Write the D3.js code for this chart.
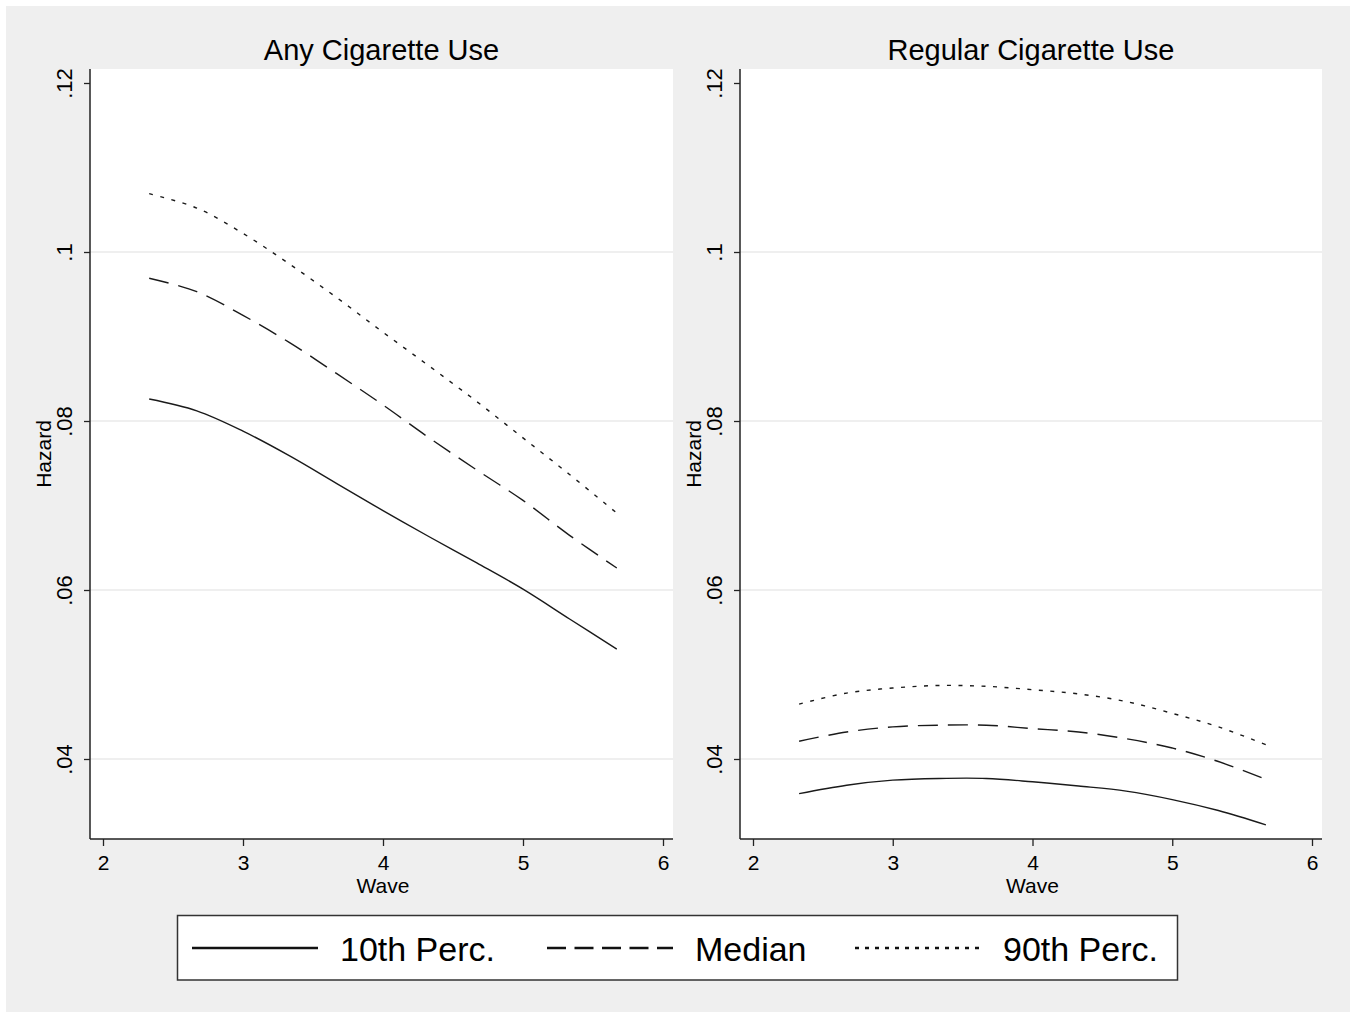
<!DOCTYPE html>
<meta charset="utf-8">
<script src="https://d3js.org/d3.v7.min.js"></script>
<style>
  body { margin: 0; background: #fff; }
  text { font-family: Arial, "Liberation Sans", sans-serif; fill: #000; }
</style>
<div id="chart"></div>
<script>

// data
var waves = [2.33, 2.67, 3, 3.33, 3.67, 4, 4.33, 4.67, 5, 5.33, 5.67];
var panelTitles = ["Any Cigarette Use", "Regular Cigarette Use"];
var seriesNames = ["10th Perc.", "Median", "90th Perc."];

var anyP10 = [.0826, .0812, .0788, .0759, .0726, .0694, .0663, .0632, .0601, .0566, .0530];
var anyMed = [.0969, .0953, .0925, .0893, .0856, .0819, .0780, .0742, .0706, .0665, .0626];
var anyP90 = [.1069, .1052, .1022, .0986, .0946, .0905, .0865, .0823, .0780, .0737, .0691];

var regP10 = [.0359, .0369, .0375, .0377, .0377, .0373, .0368, .0362, .0352, .0339, .0322];
var regMed = [.0421, .0432, .0438, .0440, .0440, .0436, .0432, .0424, .0413, .0397, .0376];
var regP90 = [.0465, .0478, .0484, .0487, .0486, .0482, .0477, .0468, .0454, .0438, .0417];

var xTicks = [2, 3, 4, 5, 6];
var yTicks = [.04, .06, .08, .1, .12];
var yTickLabels = [".04", ".06", ".08", ".1", ".12"];

var panelData = [[anyP10, anyMed, anyP90], [regP10, regMed, regP90]];
var dashes = [null, "20,10", "4,7.5"];

var W = 1357, H = 1013;
var svg = d3.select("#chart").append("svg")
  .attr("width", W).attr("height", H);

// outer gray background
svg.append("rect")
  .attr("x", 6).attr("y", 6).attr("width", 1344).attr("height", 1006)
  .attr("fill", "#efefef");

var plotTop = 69, plotBottom = 839;
var panels = [
  {left: 90, right: 673, x0: 103, x6: 663},
  {left: 740, right: 1322, x0: 753, x6: 1312}
];

var y = d3.scaleLinear().domain([.04, .12]).range([759, 83]);

panels.forEach(function(p, i) {
  var x = d3.scaleLinear().domain([2, 6]).range([p.x0, p.x6]);
  var g = svg.append("g");

  g.append("rect")
    .attr("x", p.left).attr("y", plotTop)
    .attr("width", p.right - p.left).attr("height", plotBottom - plotTop)
    .attr("fill", "#fff");

  // gridlines
  g.selectAll(".grid").data(yTicks.slice(0, 4)).enter().append("line")
    .attr("x1", p.left).attr("x2", p.right)
    .attr("y1", function(d) { return y(d); })
    .attr("y2", function(d) { return y(d); })
    .attr("stroke", "#eaeaea").attr("stroke-width", 1.5);

  // series
  var line = d3.line()
    .x(function(d, j) { return x(waves[j]); })
    .y(function(d) { return y(d); })
    .curve(d3.curveCatmullRom);

  panelData[i].forEach(function(vals, k) {
    g.append("path")
      .attr("d", line(vals))
      .attr("fill", "none")
      .attr("stroke", "#1a1a1a")
      .attr("stroke-width", 1.4)
      .attr("stroke-dasharray", dashes[k]);
  });

  // y axis
  var yAxis = g.append("g")
    .attr("transform", "translate(" + p.left + ",0)")
    .call(d3.axisLeft(y).tickValues(yTicks).tickSize(6)
      .tickFormat(function(d, j) { return yTickLabels[j]; }));
  yAxis.select(".domain").attr("d", "M0," + plotTop + "V" + plotBottom)
    .attr("stroke", "#222").attr("stroke-width", 1.5);
  yAxis.selectAll(".tick line").attr("stroke", "#222").attr("stroke-width", 1.3);
  yAxis.selectAll(".tick text")
    .attr("x", null).attr("dy", null)
    .attr("transform", "translate(-18,0) rotate(-90)")
    .attr("text-anchor", "middle")
    .style("font-size", "22px")
    .style("font-family", "Arial, 'Liberation Sans', sans-serif")
    .attr("fill", "#000");

  // x axis
  var xAxis = g.append("g")
    .attr("transform", "translate(0," + plotBottom + ")")
    .call(d3.axisBottom(x).tickValues(xTicks).tickSize(7).tickFormat(d3.format("d")));
  xAxis.select(".domain").attr("d", "M" + p.left + ",0H" + p.right)
    .attr("stroke", "#222").attr("stroke-width", 1.5);
  xAxis.selectAll(".tick line").attr("stroke", "#222").attr("stroke-width", 1.3);
  xAxis.selectAll(".tick text")
    .attr("y", 31).attr("dy", null)
    .style("font-size", "21px")
    .style("font-family", "Arial, 'Liberation Sans', sans-serif")
    .attr("fill", "#000");

  // labels
  g.append("text")
    .attr("x", (p.left + p.right) / 2).attr("y", 60)
    .attr("text-anchor", "middle")
    .style("font-size", "29px")
    .text(panelTitles[i]);

  g.append("text")
    .attr("x", x(4)).attr("y", 893)
    .attr("text-anchor", "middle")
    .style("font-size", "21px")
    .text("Wave");

  g.append("text")
    .attr("transform", "translate(" + (p.left - 39) + "," + ((plotTop + plotBottom) / 2) + ") rotate(-90)")
    .attr("text-anchor", "middle")
    .style("font-size", "21px")
    .text("Hazard");
});

// legend
var legend = svg.append("g");
legend.append("rect")
  .attr("x", 177.5).attr("y", 915.5).attr("width", 1000).attr("height", 64.5)
  .attr("fill", "#fff").attr("stroke", "#333").attr("stroke-width", 1.5);

var legendX = [192, 547, 855];
seriesNames.forEach(function(name, k) {
  legend.append("line")
    .attr("x1", legendX[k]).attr("x2", legendX[k] + 126)
    .attr("y1", 948).attr("y2", 948)
    .attr("stroke", "#111").attr("stroke-width", 2.5)
    .attr("stroke-dasharray", k === 0 ? null : (k === 1 ? "19,8.5" : "4,6"));
  legend.append("text")
    .attr("x", legendX[k] + 148).attr("y", 961)
    .style("font-size", "34px")
    .text(name);
});

</script>
